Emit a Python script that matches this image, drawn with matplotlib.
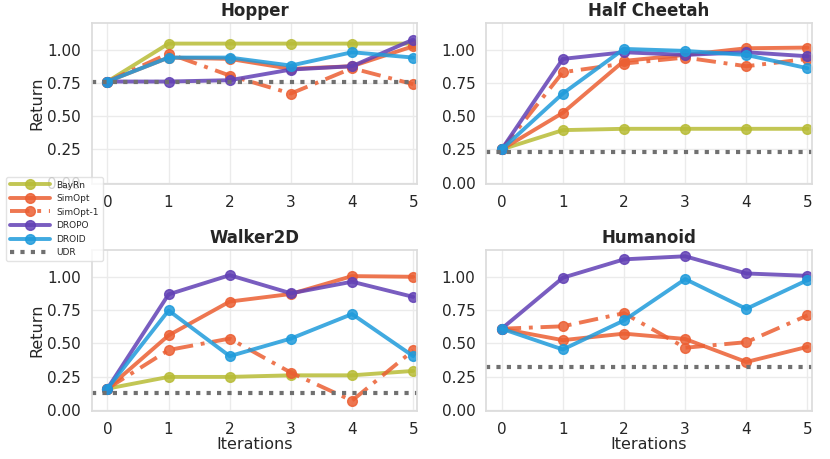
import numpy as np
import matplotlib.pyplot as plt
import seaborn as sns

sns.set_theme(style="whitegrid")
plt.rcParams['font.family'] = ['DejaVu Sans']

iters = [0, 1, 2, 3, 4, 5]
envs = ["Hopper", "Half Cheetah", "Walker2D", "Humanoid"]

# returns per method, one list per env (normalized)
bayrn = [
    [0.76, 1.045, 1.045, 1.045, 1.045, 1.045],
    [0.25, 0.395, 0.405, 0.405, 0.405, 0.405],
    [0.16, 0.248, 0.248, 0.26, 0.26, 0.293],
    None,
]
simopt = [
    [0.76, 0.94, 0.93, 0.855, 0.875, 1.025],
    [0.25, 0.525, 0.915, 0.96, 1.01, 1.015],
    [0.16, 0.56, 0.814, 0.871, 1.005, 1.0],
    [0.61, 0.524, 0.573, 0.533, 0.36, 0.474],
]
simopt1 = [
    [0.76, 0.97, 0.805, 0.67, 0.86, 0.74],
    [0.25, 0.83, 0.895, 0.94, 0.875, 0.93],
    [0.16, 0.45, 0.536, 0.28, 0.07, 0.447],
    [0.61, 0.628, 0.727, 0.467, 0.509, 0.71],
]
dropo = [
    [0.76, 0.76, 0.77, 0.85, 0.875, 1.075],
    [0.25, 0.93, 0.98, 0.96, 0.98, 0.95],
    [0.16, 0.868, 1.012, 0.876, 0.963, 0.849],
    [0.61, 0.993, 1.131, 1.154, 1.025, 1.007],
]
droid = [
    [0.76, 0.94, 0.94, 0.88, 0.98, 0.94],
    [0.25, 0.67, 1.005, 0.99, 0.96, 0.86],
    [0.16, 0.747, 0.404, 0.536, 0.72, 0.404],
    [0.61, 0.454, 0.672, 0.983, 0.759, 0.975],
]
udr = [0.755, 0.23, 0.127, 0.323]

methods = [
    ("BayRn", bayrn, "#b8bc36", "-"),
    ("SimOpt", simopt, "#eb5f33", "-"),
    ("SimOpt-1", simopt1, "#eb5f33", (0, (5, 2, 1, 2))),
    ("DROPO", dropo, "#6241b5", "-"),
    ("DROID", droid, "#1f9bdb", "-"),
]

fig = plt.figure(figsize=(8.3, 4.59), dpi=100)
positions = [
    [0.111, 0.599, 0.392, 0.351],
    [0.586, 0.599, 0.392, 0.351],
    [0.111, 0.104, 0.392, 0.351],
    [0.586, 0.104, 0.392, 0.351],
]

for i, env in enumerate(envs):
    ax = fig.add_axes(positions[i])
    for name, data, color, ls in methods:
        if data[i] is None:
            ax.plot([], [], color=color, ls=ls, lw=2.8, marker="o", ms=7,
                    alpha=0.85, label=name)
            continue
        ax.plot(iters, data[i], color=color, ls=ls, lw=2.8, marker="o",
                ms=7, alpha=0.85, label=name)
    ax.axhline(udr[i], color="#707070", ls=(0, (1, 1.5)), lw=3, label="UDR")
    ax.set_xlim(-0.25, 5.07)
    ax.set_ylim(-0.01, 1.2)
    ax.set_xticks(iters)
    ax.set_yticks([0, 0.25, 0.5, 0.75, 1.0])
    ax.set_yticklabels(["0.00", "0.25", "0.50", "0.75", "1.00"])
    ax.tick_params(labelsize=11, pad=2, labelcolor="#262626")
    ax.grid(color="#ebebeb", lw=1)
    for sp in ax.spines.values():
        sp.set_color("#dcdcdc")
    ax.set_title(env, fontsize=12, fontweight="bold", pad=5, color="#262626")
    if i % 2 == 0:
        ax.set_ylabel("Return", fontsize=11.5, labelpad=2, color="#262626")
    if i >= 2:
        ax.set_xlabel("Iterations", fontsize=11.5, labelpad=0, color="#262626")
    if i == 0:
        handles, labels = ax.get_legend_handles_labels()

leg = fig.legend(handles, labels, loc="upper left",
                 bbox_to_anchor=(6 / 830, 1 - 177 / 459), borderaxespad=0,
                 fontsize=6.5, handlelength=4.5, handletextpad=0.7,
                 framealpha=0.8, borderpad=0.4, labelspacing=0.5)
leg.get_frame().set_edgecolor("#dcdcdc")

plt.savefig("out.png", dpi=100)
